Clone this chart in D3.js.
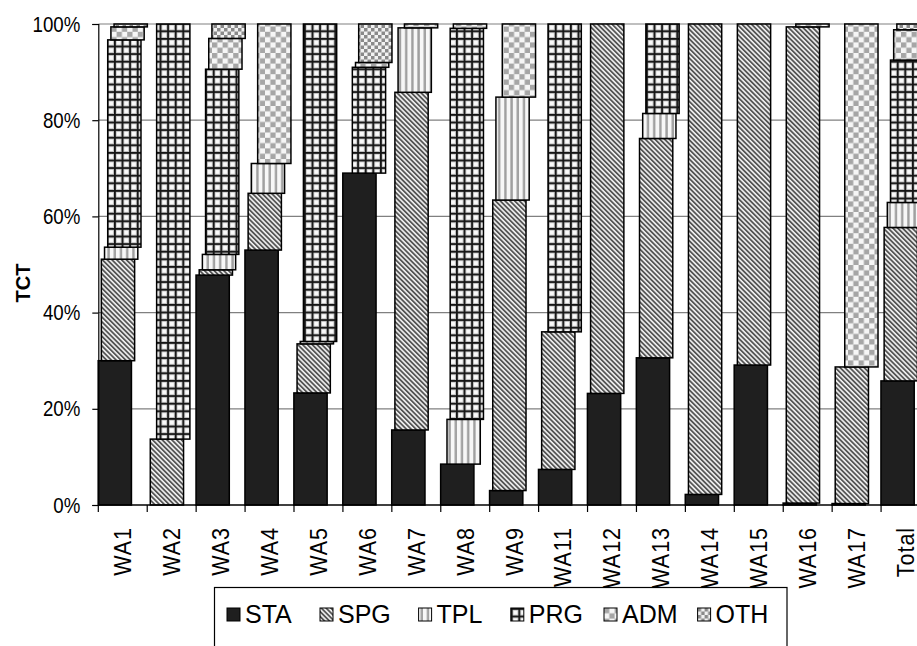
<!DOCTYPE html>
<html>
<head>
<meta charset="utf-8">
<style>
  body { margin: 0; background: #fff; }
  svg { display: block; }
  text { font-family: "Liberation Sans", Arial, sans-serif; fill: #000; }
</style>
<script src="https://d3js.org/d3.v7.min.js"></script>
</head>
<body>
<svg id="chart" width="917" height="646"></svg>
<script>
// categories and series (percent of total)
var categories = ["WA1","WA2","WA3","WA4","WA5","WA6","WA7","WA8","WA9","WA11","WA12","WA13","WA14","WA15","WA16","WA17","Total"];
var seriesNames = ["STA","SPG","TPL","PRG","ADM","OTH"];
var STA = [30.0, 0, 47.8, 53.0, 23.3, 69.0, 15.6, 8.5, 3.0, 7.4, 23.2, 30.6, 2.2, 29.1, 0.4, 0.3, 25.8];
var SPG = [21.1, 13.7, 1.1, 11.8, 10.2, 0, 70.2, 0, 60.4, 28.6, 76.8, 45.6, 97.8, 70.9, 99.0, 28.4, 31.9];
var TPL = [2.5, 0, 3.2, 6.2, 0.5, 0, 13.4, 9.3, 21.4, 0, 0, 5.2, 0, 0, 0, 0, 5.2];
var PRG = [43.1, 86.3, 38.5, 0, 66.0, 22.0, 0, 81.3, 0, 64.0, 0, 18.6, 0, 0, 0, 0, 29.6];
var ADM = [2.7, 0, 6.4, 29.0, 0, 1.0, 0.8, 0.9, 15.2, 0, 0, 0, 0, 0, 0.6, 71.3, 6.3];
var OTH = [0.6, 0, 3.0, 0, 0, 8.0, 0, 0, 0, 0, 0, 0, 0, 0, 0, 0, 1.2];
var yTicks = [0, 20, 40, 60, 80, 100];
var yTitle = "TCT";

var seriesValues = {STA: STA, SPG: SPG, TPL: TPL, PRG: PRG, ADM: ADM, OTH: OTH};
var table = categories.map(function(c, i) {
  var row = {cat: c};
  seriesNames.forEach(function(s) { row[s] = seriesValues[s][i]; });
  return row;
});

var svg = d3.select("#chart");

// plot area (runs a little past the right edge, like the reference)
var plotL = 98.3, plotR = 930, plotT = 24, plotB = 505;

var x = d3.scaleBand().domain(categories).range([plotL, plotR]).paddingInner(0).paddingOuter(0);
var y = d3.scaleLinear().domain([0, 100]).range([plotB, plotT]);

var bw = x.bandwidth();
var barW = bw * 0.68;
var shift = bw * 0.065;   // each series sits a little to the right of the previous one
var groupPad = (bw - (barW + shift * (seriesNames.length - 1))) / 2;

// patterns
var defs = svg.append("defs");

var spg = defs.append("pattern").attr("id", "p-SPG").attr("patternUnits", "userSpaceOnUse")
  .attr("width", 3.4).attr("height", 3.4).attr("patternTransform", "rotate(-45)");
spg.append("rect").attr("width", 3.4).attr("height", 3.4).attr("fill", "#f2f2f2");
spg.append("rect").attr("width", 1.8).attr("height", 3.4).attr("fill", "#555");

var tpl = defs.append("pattern").attr("id", "p-TPL").attr("patternUnits", "userSpaceOnUse")
  .attr("width", 6.2).attr("height", 6.2);
tpl.append("rect").attr("width", 6.2).attr("height", 6.2).attr("fill", "#f7f7f7");
tpl.append("rect").attr("x", 2).attr("width", 2.4).attr("height", 6.2).attr("fill", "#a0a0a0");

var prg = defs.append("pattern").attr("id", "p-PRG").attr("patternUnits", "userSpaceOnUse")
  .attr("width", 7.6).attr("height", 7.6);
prg.append("rect").attr("width", 7.6).attr("height", 7.6).attr("fill", "#c0c0c0");
prg.append("rect").attr("x", 2.6).attr("y", 2.6).attr("width", 4).attr("height", 4).attr("fill", "#fafafa");
prg.append("rect").attr("x", 0).attr("y", 0).attr("width", 1.8).attr("height", 7.6).attr("fill", "#151515");
prg.append("rect").attr("x", 0).attr("y", 0).attr("width", 7.6).attr("height", 1.8).attr("fill", "#151515");

var adm = defs.append("pattern").attr("id", "p-ADM").attr("patternUnits", "userSpaceOnUse")
  .attr("width", 10.6).attr("height", 10.6);
adm.append("rect").attr("width", 10.6).attr("height", 10.6).attr("fill", "#f6f6f6");
adm.append("rect").attr("width", 5.3).attr("height", 5.3).attr("fill", "#a6a6a6");
adm.append("rect").attr("x", 5.3).attr("y", 5.3).attr("width", 5.3).attr("height", 5.3).attr("fill", "#a6a6a6");

var oth = defs.append("pattern").attr("id", "p-OTH").attr("patternUnits", "userSpaceOnUse")
  .attr("width", 7).attr("height", 7);
oth.append("rect").attr("width", 7).attr("height", 7).attr("fill", "#f2f2f2");
oth.append("rect").attr("width", 3.5).attr("height", 3.5).attr("fill", "#8a8a8a");
oth.append("rect").attr("x", 3.5).attr("y", 3.5).attr("width", 3.5).attr("height", 3.5).attr("fill", "#8a8a8a");

var fills = {STA: "#1f1f1f", SPG: "url(#p-SPG)", TPL: "url(#p-TPL)", PRG: "url(#p-PRG)", ADM: "url(#p-ADM)", OTH: "url(#p-OTH)"};

// gridlines
svg.append("g").selectAll("line")
  .data(yTicks.filter(function(d) { return d > 0; }))
  .enter().append("line")
    .attr("x1", plotL).attr("x2", plotR)
    .attr("y1", function(d) { return y(d); }).attr("y2", function(d) { return y(d); })
    .attr("stroke", "#808080").attr("stroke-width", 1.2);

// stacked bars
var stack = d3.stack().keys(seriesNames)(table);

svg.append("g").selectAll("g")
  .data(stack)
  .enter().append("g")
    .attr("fill", function(d) { return fills[d.key]; })
  .selectAll("rect")
  .data(function(d) { return d.map(function(p) { p.key = d.key; p.idx = seriesNames.indexOf(d.key); return p; }); })
  .enter().filter(function(d) { return d[1] - d[0] > 0; })
  .append("rect")
    .attr("x", function(d) { return x(d.data.cat) + groupPad + d.idx * shift; })
    .attr("y", function(d) { return y(d[1]); })
    .attr("width", barW)
    .attr("height", function(d) { return y(d[0]) - y(d[1]); })
    .attr("stroke", "#000").attr("stroke-width", 1.5);

// y axis
var ySquash = 0.85;
var yAxis = svg.append("g")
  .attr("transform", "translate(" + plotL + ",0)")
  .call(d3.axisLeft(y).tickValues(yTicks).tickSize(6).tickPadding(12).tickFormat(function(d) { return d + "%"; }));
yAxis.select(".domain").attr("stroke", "#000").attr("stroke-width", 1.2);
yAxis.selectAll(".tick line").attr("stroke", "#000").attr("stroke-width", 1.2);
yAxis.selectAll("text")
  .attr("x", -18 / ySquash)
  .attr("transform", "scale(" + ySquash + ",1)")
  .style("font-size", "22px").style("font-family", "Liberation Sans, Arial, sans-serif");

// x axis line and tick marks at category boundaries
svg.append("line").attr("x1", plotL).attr("x2", plotR).attr("y1", plotB).attr("y2", plotB)
  .attr("stroke", "#000").attr("stroke-width", 1.4);
svg.append("g").selectAll("line")
  .data(categories)
  .enter().append("line")
    .attr("x1", function(d) { return x(d); }).attr("x2", function(d) { return x(d); })
    .attr("y1", plotB).attr("y2", plotB + 7)
    .attr("stroke", "#000").attr("stroke-width", 1.2);

svg.append("g").selectAll("text")
  .data(categories)
  .enter().append("text")
    .attr("transform", function(d) { return "translate(" + (x(d) + bw / 2) + "," + (plotB + 22) + ") rotate(-90) scale(0.9,1)"; })
    .attr("text-anchor", "end")
    .attr("dy", "0.35em")
    .style("font-size", "24px")
    .style("letter-spacing", "1px")
    .text(function(d) { return d; });

// y title
svg.append("text")
  .attr("transform", "translate(23,283) rotate(-90)")
  .attr("text-anchor", "middle")
  .attr("dy", "0.35em")
  .style("font-size", "20px").style("font-weight", "bold")
  .text(yTitle);

// legend
var legend = svg.append("g");
legend.append("rect")
  .attr("x", 214.5).attr("y", 587.5).attr("width", 572.5).attr("height", 80)
  .attr("fill", "#fff").attr("stroke", "#000").attr("stroke-width", 1.2);

var legendX = [227, 320, 418.6, 510.8, 604, 697.6];
var item = legend.selectAll("g.item")
  .data(seriesNames)
  .enter().append("g").attr("class", "item")
    .attr("transform", function(d, i) { return "translate(" + legendX[i] + ",608)"; });
item.append("rect")
  .attr("width", 13).attr("height", 13)
  .attr("fill", function(d) { return fills[d]; })
  .attr("stroke", "#000").attr("stroke-width", 1);
item.append("text")
  .attr("x", 18).attr("y", 15)
  .style("font-size", "25px")
  .text(function(d) { return d; });
</script>
</body>
</html>
